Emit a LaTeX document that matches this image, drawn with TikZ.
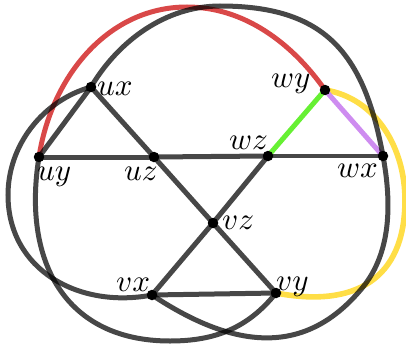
\documentclass[tikz,border=0pt]{standalone}
\usepackage{graphicx}
\usetikzlibrary{backgrounds}
\definecolor{redc}{RGB}{217,72,72}
\definecolor{yellowc}{RGB}{255,222,70}
\definecolor{greenc}{RGB}{102,240,51}
\definecolor{purplec}{RGB}{206,140,240}
\newcommand{\lbltext}[1]{\scalebox{3.1}{$#1$}}
\begin{document}
\begin{tikzpicture}[x=1pt,y=-1pt,
  dot/.style={circle,fill=black,inner sep=0pt,minimum size=10.5pt},
  edge/.style={line width=5pt,draw=black,draw opacity=0.72},
  thinedge/.style={line width=3.6pt,draw=black,draw opacity=0.72},
  coloured/.style={line width=5pt,draw=#1},
  lbl/.style={anchor=base west,inner sep=0pt},
  ]
\useasboundingbox (0,0) rectangle (406,345);
% vertices
\node[dot] (ux) at (91,87) {};
\node[dot] (uy) at (39,157) {};
\node[dot] (uz) at (154,157) {};
\node[dot] (wz) at (268,156) {};
\node[dot] (wx) at (383,156) {};
\node[dot] (wy) at (325,90) {};
\node[dot] (vz) at (213,223) {};
\node[dot] (vx) at (152,295) {};
\node[dot] (vy) at (276,293) {};
% join points of the curved edges
\coordinate (redtop) at (187,7);
\coordinate (darktop) at (220,6);
\coordinate (darkright) at (363,287);
\coordinate (darkleft) at (8,195);
\coordinate (darkbottom) at (170,341);
\coordinate (yellowright) at (405,200);
% labels
\node[lbl] (lux) at (97,95) {\lbltext{ux}};
\node[lbl] (luy) at (37,180) {\lbltext{uy}};
\node[lbl] (luz) at (124,180) {\lbltext{uz}};
\node[lbl] (lwz) at (229,149) {\lbltext{wz}};
\node[lbl] (lwx) at (337,177) {\lbltext{wx}};
\node[lbl] (lwy) at (271,87) {\lbltext{wy}};
\node[lbl] (lvz) at (222,229) {\lbltext{vz}};
\node[lbl] (lvx) at (116,291) {\lbltext{vx}};
\node[lbl] (lvy) at (276,290) {\lbltext{vy}};
\begin{scope}[on background layer]
  % coloured edges
  \draw[coloured=redc] (uy.center) .. controls (51,78) and (107,7) .. (redtop)
        .. controls (244,7) and (292,43) .. (wy.center);
  \draw[coloured=yellowc,line width=5.6pt] (wy.center) .. controls (376,98) and (405,148) .. (yellowright)
        .. controls (405,280) and (354,308) .. (vy.center);
  \draw[coloured=greenc] (wy.center) -- (wz.center);
  \draw[coloured=purplec] (wy.center) -- (wx.center);
  % dark curves
  \draw[edge] (ux.center) .. controls (118.5,40.6) and (166,6) .. (darktop)
        .. controls (325,6) and (364,53) .. (wx.center);
  \draw[edge] (wx.center) .. controls (391.3,201) and (392,251) .. (darkright)
        .. controls (306,357) and (235,350) .. (vx.center);
  \draw[edge] (ux.center) .. controls (43,100.5) and (8,145) .. (darkleft)
        .. controls (8,270) and (79,309) .. (vx.center);
  \draw[edge] (uy.center) .. controls (22,261) and (65,341) .. (darkbottom)
        .. controls (215,341) and (248,328) .. (vy.center);
  % dark straight edges
  \draw[edge] (uy.center) -- (ux.center);
  \draw[edge] (ux.center) -- (uz.center);
  \draw[edge] (uz.center) -- (vz.center);
  \draw[edge] (vz.center) -- (vy.center);
  \draw[edge] (uy.center) -- (uz.center);
  \draw[edge] (uz.center) -- (wz.center);
  \draw[thinedge] (wz.center) -- (wx.center);
  \draw[edge] (wz.center) -- (vz.center);
  \draw[edge] (vz.center) -- (vx.center);
  \draw[edge] (vx.center) -- (vy.center);
\end{scope}
\end{tikzpicture}
\end{document}
